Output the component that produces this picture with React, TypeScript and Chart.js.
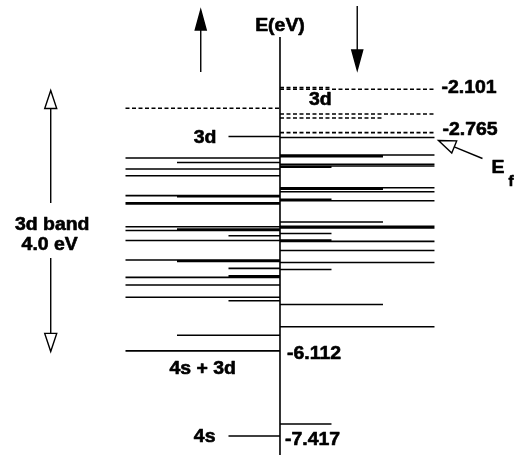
import React, { useEffect, useRef } from "react";
import { Chart, registerables } from "chart.js";

Chart.register(...registerables);

// Spin-up (left) occupied levels, eV, and drawn length (in thirds of a full level)
const upOccE = [-2.825, -3.154, -3.223, -3.323, -3.426, -3.732, -3.748, -3.84, -3.86, -4.208, -4.243, -4.266, -4.346, -4.419, -4.718, -4.741, -4.846, -4.961, -4.984, -5.102, -5.29, -5.342, -5.873, -6.112, -7.417];
const upOccLen = [1, 3, 2, 3, 3, 3, 2, 3, 3, 3, 2, 3, 1, 3, 3, 2, 1, 1, 3, 3, 3, 1, 2, 3, 1];
// Spin-up virtual levels
const upVirtE = [-2.392];
const upVirtLen = [3];
// Spin-down (right) occupied levels
const downOccE = [-2.84, -3.108, -3.134, -3.251, -3.277, -3.297, -3.61, -3.634, -3.671, -3.788, -3.809, -4.136, -4.202, -4.228, -4.312, -4.412, -4.432, -4.573, -4.757, -4.864, -5.401, -5.741, -7.233];
const downOccLen = [3, 3, 2, 3, 3, 1, 3, 2, 3, 1, 3, 2, 3, 3, 1, 1, 3, 3, 3, 1, 2, 3, 1];
// Spin-down virtual levels
const downVirtE = [-2.073, -2.101, -2.48, -2.541, -2.765];
const downVirtLen = [1, 3, 3, 2, 3];

// Labelled energies
const labelTop = "-2.101";
const labelEf = "-2.765";
const label4s3d = "-6.112";
const label4s = "-7.417";
const bandTop = -2.12;
const bandBottom = -6.12;

const X_MIN = -5.437;
const X_MAX = 4.583;
const Y_MIN = -7.708;
const Y_MAX = -0.732;
const AXIS_TOP = -1.3;

type Pt = { x: number; y: number | null };
function levels(E: number[], L: number[], side: number): Pt[] {
  const out: Pt[] = [];
  E.forEach((e, i) => {
    out.push({ x: side < 0 ? -L[i] : 0, y: e });
    out.push({ x: side < 0 ? 0 : L[i], y: e });
    out.push({ x: 0, y: null });
  });
  return out;
}

const FONT = '"Liberation Sans", Arial, Helvetica, sans-serif';

const annot = {
  id: "annot",
  afterDatasetsDraw(chart: any) {
    const ctx: CanvasRenderingContext2D = chart.ctx;
    const xs = chart.scales.x;
    const ys = chart.scales.y;
    const X = (v: number) => xs.getPixelForValue(v);
    const Y = (v: number) => ys.getPixelForValue(v);
    ctx.save();
    ctx.fillStyle = "#000";
    ctx.strokeStyle = "#000";
    const text = (s: string, x: number, y: number, align: CanvasTextAlign, size = 18) => {
      ctx.save();
      ctx.font = `bold ${size}px ${FONT}`;
      ctx.textAlign = align;
      ctx.textBaseline = "alphabetic";
      ctx.translate(x, y);
      ctx.scale(1.08, 1);
      ctx.lineWidth = 0.6;
      ctx.lineJoin = "round";
      ctx.fillText(s, 0, 0);
      ctx.strokeText(s, 0, 0);
      ctx.restore();
    };
    const arrow = (x1: number, y1: number, x2: number, y2: number, filled: boolean, hl: number, hw: number) => {
      const dx = x2 - x1, dy = y2 - y1;
      const len = Math.hypot(dx, dy);
      const ux = dx / len, uy = dy / len;
      const bx = x2 - ux * hl, by = y2 - uy * hl;
      ctx.lineWidth = 1.4;
      ctx.beginPath();
      ctx.moveTo(x1, y1);
      ctx.lineTo(bx, by);
      ctx.stroke();
      ctx.beginPath();
      ctx.moveTo(x2, y2);
      ctx.lineTo(bx - uy * hw, by + ux * hw);
      ctx.lineTo(bx + uy * hw, by - ux * hw);
      ctx.closePath();
      ctx.fillStyle = filled ? "#000" : "#fff";
      ctx.fill();
      ctx.stroke();
      ctx.fillStyle = "#000";
    };

    const x0 = X(0);
    text("E(eV)", x0, 31, "center");
    // spin arrows
    arrow(X(-1.5) - 2, 72, X(-1.5) - 2, 10, true, 20, 5.5);
    arrow(X(1.5), 6, X(1.5), 70, true, 20, 5.5);

    // level labels
    text(labelTop, X(3) + 7, Y(parseFloat(labelTop)) + 4, "left");
    text(labelEf, X(3) + 8, Y(parseFloat(labelEf)) + 2.5, "left");
    text(label4s3d, x0 + 7, Y(parseFloat(label4s3d)) + 8, "left");
    text(label4s, x0 + 5, Y(parseFloat(label4s)) + 9, "left");
    text("3d", x0 + 29, Y(-2.101) + 16, "left");
    text("3d", X(-1) - 12, Y(-2.825) + 6.5, "right");
    text("4s + 3d", X(-1.5), Y(-6.112) + 23, "center");
    text("4s", X(-1) - 13, Y(-7.417) + 5.5, "right");

    // band width arrow
    const bx = X(-4.452);
    arrow(bx, 203, bx, Y(bandTop), false, 18, 6);
    arrow(bx, 258, bx, Y(bandBottom), false, 18, 6);
    text("3d band", bx + 1.5, 230, "center");
    text("4.0 eV", bx - 1, 250, "center");

    // Fermi level pointer
    const tx = X(3) + 4, ty = Y(-2.84) + 3;
    arrow(tx + 44, ty + 18, tx, ty, false, 17, 6.5);
    text("E", X(3) + 57, 173, "left");
    text("f", X(3) + 74, 186, "left", 14);
    ctx.restore();
  },
};

export default function App() {
  const ref = useRef<HTMLCanvasElement | null>(null);
  useEffect(() => {
    if (!ref.current) return;
    const solid = { borderColor: "#000", borderWidth: 1.6, pointRadius: 0, spanGaps: false, borderCapStyle: "butt" as const };
    const dashed = { ...solid, borderWidth: 1.6, borderDash: [4, 2.5] };
    const chart = new Chart(ref.current, {
      type: "line",
      data: {
        datasets: [
          { ...solid, data: levels(upOccE, upOccLen, -1) },
          { ...solid, data: levels(downOccE, downOccLen, 1) },
          { ...dashed, data: levels(upVirtE, upVirtLen, -1) },
          { ...dashed, data: levels(downVirtE, downVirtLen, 1) },
          { ...solid, data: [{ x: 0, y: AXIS_TOP }, { x: 0, y: Y_MIN }] },
        ] as any,
      },
      options: {
        animation: false,
        responsive: false,
        maintainAspectRatio: false,
        devicePixelRatio: 1,
        layout: { padding: 0 },
        plugins: { legend: { display: false }, tooltip: { enabled: false } },
        elements: { line: { tension: 0 } },
        scales: {
          x: { type: "linear", min: X_MIN, max: X_MAX, display: false },
          y: { type: "linear", min: Y_MIN, max: Y_MAX, display: false },
        },
      },
      plugins: [annot],
    });
    return () => chart.destroy();
  }, []);
  return (
    <div style={{ position: "absolute", left: 0, top: 0, width: 516, height: 455, background: "#fff" }}>
      <canvas ref={ref} width={516} height={455} style={{ display: "block" }} />
    </div>
  );
}
